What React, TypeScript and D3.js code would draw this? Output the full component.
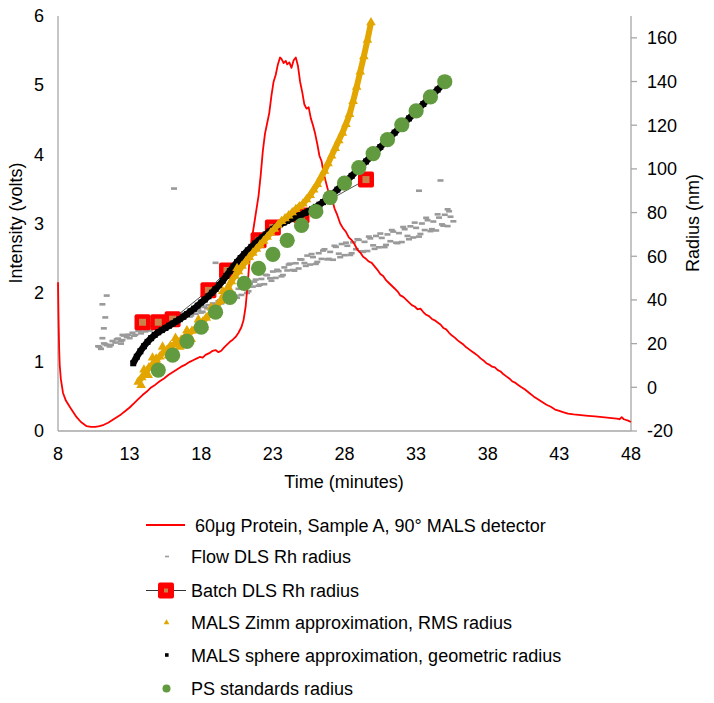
import React from 'react';
import * as d3 from 'd3';

const xTicks = [8, 13, 18, 23, 28, 33, 38, 43, 48];
const leftTicks = [0, 1, 2, 3, 4, 5, 6];
const rightTicks = [-20, 0, 20, 40, 60, 80, 100, 120, 140, 160];

// 60µg Protein, Sample A, 90° MALS detector (time min, volts)
const intensity: [number, number][] = [
  [8.0, 2.15], [8.04, 1.6], [8.08, 1.2], [8.12, 0.95], [8.2, 0.75], [8.35, 0.55], [8.55, 0.44], [8.85, 0.34],
  [9.3, 0.2], [9.6, 0.13], [10.0, 0.07], [10.3, 0.06], [10.6, 0.06], [10.9, 0.07], [11.2, 0.09], [11.5, 0.12],
  [11.8, 0.16], [12.1, 0.2], [12.4, 0.24], [12.7, 0.29], [13.0, 0.34], [13.3, 0.4], [13.6, 0.46], [13.9, 0.52],
  [14.2, 0.57], [14.5, 0.63], [14.8, 0.67], [15.1, 0.72], [15.4, 0.76], [15.7, 0.81], [16.0, 0.85], [16.3, 0.89],
  [16.6, 0.93], [16.9, 0.96], [17.2, 1.0], [17.5, 1.03], [17.7, 1.05], [17.9, 1.07], [18.1, 1.06], [18.3, 1.1],
  [18.6, 1.13], [18.8, 1.16], [19.0, 1.17], [19.2, 1.14], [19.4, 1.16], [19.6, 1.21], [19.8, 1.25], [20.0, 1.29],
  [20.2, 1.32], [20.4, 1.36], [20.6, 1.42], [20.8, 1.5], [20.95, 1.6], [21.1, 1.8], [21.25, 2.15], [21.4, 2.55],
  [21.55, 2.8], [21.7, 3.0], [21.85, 3.2], [22.0, 3.4], [22.15, 3.7], [22.3, 4.05], [22.45, 4.3], [22.6, 4.45],
  [22.75, 4.6], [22.9, 4.85], [23.05, 5.05], [23.2, 5.15], [23.35, 5.3], [23.5, 5.4], [23.6, 5.38], [23.75, 5.32],
  [23.9, 5.35], [24.0, 5.3], [24.15, 5.33], [24.3, 5.25], [24.45, 5.36], [24.6, 5.4], [24.75, 5.28], [24.9, 5.05],
  [25.05, 4.9], [25.2, 4.72], [25.35, 4.66], [25.5, 4.68], [25.65, 4.52], [25.8, 4.42], [25.95, 4.3], [26.1, 4.15],
  [26.25, 3.98], [26.4, 3.9], [26.55, 3.72], [26.7, 3.6], [26.85, 3.48], [27.0, 3.4], [27.15, 3.34], [27.3, 3.22],
  [27.5, 3.12], [27.7, 3.0], [27.9, 2.93], [28.1, 2.88], [28.3, 2.8], [28.5, 2.76], [28.7, 2.7], [28.9, 2.62],
  [29.1, 2.58], [29.3, 2.52], [29.5, 2.49], [29.7, 2.45], [29.9, 2.43], [30.1, 2.38], [30.3, 2.33], [30.5, 2.27],
  [30.7, 2.24], [30.9, 2.18], [31.1, 2.14], [31.3, 2.1], [31.5, 2.06], [31.7, 2.02], [31.9, 1.96], [32.1, 1.94],
  [32.3, 1.9], [32.5, 1.86], [32.7, 1.82], [32.9, 1.8], [33.1, 1.76], [33.3, 1.77], [33.5, 1.72], [33.7, 1.68],
  [33.9, 1.66], [34.1, 1.62], [34.3, 1.6], [34.5, 1.57], [34.7, 1.54], [34.9, 1.49], [35.1, 1.47], [35.3, 1.42],
  [35.5, 1.38], [35.7, 1.35], [35.9, 1.31], [36.1, 1.28], [36.3, 1.25], [36.5, 1.21], [36.7, 1.18], [36.9, 1.15],
  [37.1, 1.12], [37.3, 1.09], [37.5, 1.05], [37.7, 1.02], [37.9, 0.98], [38.1, 0.96], [38.3, 0.93], [38.5, 0.92],
  [38.7, 0.88], [38.9, 0.86], [39.1, 0.82], [39.3, 0.79], [39.5, 0.76], [39.7, 0.72], [39.9, 0.7], [40.1, 0.67],
  [40.3, 0.64], [40.6, 0.6], [40.9, 0.55], [41.2, 0.5], [41.5, 0.46], [41.8, 0.42], [42.1, 0.38], [42.4, 0.35],
  [42.7, 0.31], [43.0, 0.29], [43.3, 0.27], [43.6, 0.25], [44.0, 0.24], [44.5, 0.23], [45.0, 0.22], [45.5, 0.21],
  [46.0, 0.2], [46.5, 0.19], [47.0, 0.18], [47.2, 0.17], [47.35, 0.2], [47.5, 0.17], [47.8, 0.15], [48.0, 0.13],
];

// Flow DLS Rh radius (time, nm)
const flowDls: [number, number][] = [
  [10.8, 18.8], [11.0, 17.6], [11.2, 20.1], [11.4, 19.3], [11.6, 18.7], [11.8, 21.2], [12.0, 20.5], [12.2, 22.3],
  [12.4, 21.2], [12.6, 23.7], [12.8, 23.0], [13.0, 22.5], [13.2, 25.0], [13.4, 24.0], [13.6, 25.8], [13.8, 24.7],
  [14.0, 27.2], [14.2, 26.5], [14.4, 26.0], [14.6, 28.5], [14.8, 27.5], [15.0, 29.3], [15.2, 28.2], [15.4, 30.7],
  [15.6, 30.0], [15.8, 29.5], [16.0, 32.0], [16.2, 30.9], [16.4, 32.6], [16.6, 31.4], [16.8, 33.8], [17.0, 33.0],
  [17.2, 32.4], [17.4, 34.8], [17.6, 33.7], [17.8, 35.4], [18.0, 34.2], [18.2, 36.8], [18.4, 36.2], [18.6, 35.8],
  [18.8, 38.4], [19.0, 37.5], [19.2, 39.4], [19.4, 38.4], [19.6, 41.0], [19.8, 40.4], [20.0, 39.5], [20.2, 43.2],
  [20.4, 41.9], [20.6, 45.1], [20.8, 42.3], [21.0, 45.5], [21.2, 43.2], [21.4, 47.4], [21.6, 46.1], [21.8, 49.3],
  [22.0, 46.5], [22.2, 49.6], [22.4, 47.2], [22.6, 51.3], [22.8, 49.9], [23.0, 53.0], [23.2, 50.1], [23.4, 53.2],
  [23.6, 50.8], [23.8, 54.9], [24.0, 53.5], [24.2, 56.6], [24.4, 53.7], [24.6, 56.8], [24.8, 54.4], [25.0, 58.5],
  [25.2, 56.9], [25.4, 60.3], [25.6, 56.2], [25.8, 59.6], [26.0, 56.5], [26.2, 61.4], [26.4, 58.8], [26.6, 63.2],
  [26.8, 58.6], [27.0, 62.0], [27.2, 58.4], [27.4, 64.3], [27.6, 61.2], [27.8, 65.6], [28.0, 60.5], [28.2, 64.8],
  [28.4, 60.6], [28.6, 66.4], [28.8, 63.2], [29.0, 67.5], [29.2, 62.3], [29.4, 66.6], [29.6, 62.4], [29.8, 68.2],
  [30.0, 65.0], [30.2, 69.3], [30.4, 64.1], [30.6, 68.4], [30.8, 64.2], [31.0, 70.0], [31.2, 66.9], [31.4, 71.3],
  [31.6, 66.2], [31.8, 70.6], [32.0, 66.5], [32.2, 72.4], [32.4, 69.3], [32.6, 73.7], [32.8, 68.6], [33.0, 73.0],
  [33.2, 69.0], [33.4, 75.0], [33.6, 72.0], [33.8, 76.5], [34.0, 71.5], [34.2, 75.9], [34.4, 71.8], [34.6, 77.7],
  [34.8, 74.6], [35.0, 79.0], [35.2, 73.8], [35.4, 78.1], [35.6, 76.0],
  [10.9, 18.5], [11.3, 19.8], [11.7, 19.4], [12.1, 22.0], [12.5, 21.6], [12.9, 24.1], [13.3, 23.6], [13.7, 25.9],
  [14.1, 25.6], [14.5, 28.2], [14.9, 27.4], [15.3, 30.1], [15.7, 29.6], [16.1, 31.9], [16.5, 31.2], [16.9, 33.6],
  [17.3, 32.9], [17.7, 35.2], [18.1, 34.6], [18.5, 37.6], [18.9, 37.0], [19.3, 39.8], [19.7, 39.2], [20.1, 42.8],
  [20.5, 41.0], [20.9, 45.6], [21.3, 44.0], [21.7, 48.4], [22.1, 47.0], [22.5, 51.5], [22.9, 48.8], [23.3, 53.8],
  [23.7, 51.4], [24.1, 56.2], [24.5, 53.4], [24.9, 58.6], [25.3, 55.6], [25.7, 61.0], [26.1, 57.4], [26.5, 62.6],
  [26.9, 58.8], [27.3, 64.8], [27.7, 59.6], [28.1, 66.2], [28.5, 61.4], [28.9, 67.8], [29.3, 62.0], [29.7, 69.0],
  [30.1, 63.4], [30.5, 70.4], [30.9, 65.2], [31.3, 72.0], [31.7, 66.0], [32.1, 73.4], [32.5, 67.8], [32.9, 75.4],
  [33.3, 70.2], [33.7, 77.6], [34.1, 72.4], [34.5, 79.2], [34.9, 74.0], [35.3, 80.6],
  [11.1, 22.5], [11.2, 27.0], [11.3, 32.0], [11.1, 38.0], [11.4, 42.0], [12.5, 24.0], [12.4, 20.0], [16.1, 91.0],
  [19.0, 57.0], [33.2, 90.0], [34.7, 94.7], [35.2, 81.5],
];

// Batch DLS Rh radius
const batchDls: [number, number][] = [
  [13.9, 29.8], [15.0, 29.8], [16.0, 31.2], [18.5, 44.4], [19.8, 53.5], [22.0, 67.3], [23.0, 73.2], [25.0, 78.7], [29.5, 95.1],
];

// MALS Zimm approximation, RMS radius
const zimmRms: [number, number][] = [
  [13.6, 2.5], [13.85, 4.5], [14.1, 6.5], [14.35, 9], [14.6, 10.5], [14.85, 13], [15.1, 14], [15.35, 16],
  [15.6, 17], [15.85, 19], [16.1, 19.5], [16.35, 21], [16.6, 21.8], [16.85, 23], [17.1, 24], [17.35, 25.8],
  [17.6, 27], [17.85, 28.8], [18.1, 30], [18.35, 31.8], [18.6, 33.4], [18.85, 35.3], [19.1, 37.2], [19.35, 39.5],
  [19.6, 42.5], [19.85, 45.5], [20.1, 48.5], [20.35, 51], [20.6, 53], [20.85, 55.5], [21.1, 57.6], [21.35, 59.6],
  [21.6, 61.5], [21.85, 63.3], [22.1, 65.2], [22.35, 67], [22.6, 68.8], [22.85, 70.7], [23.1, 72.5], [23.35, 74.3],
  [23.6, 76], [23.85, 77.3], [24.1, 78.6], [24.35, 80], [24.6, 81.5], [24.85, 82.8], [25.1, 84], [25.35, 86],
  [25.6, 88], [25.85, 90.5], [26.1, 93], [26.35, 96], [26.6, 99], [26.85, 102.5], [27.1, 106], [27.35, 109.5],
  [27.6, 113], [27.85, 116.5], [28.1, 120.5], [28.35, 125], [28.6, 131], [28.85, 137.5], [29.1, 144.5], [29.35, 151.5],
  [29.6, 159], [29.85, 167],
];
const zimmScatter: [number, number][] = [
  [13.8, 1], [14.0, 8], [14.3, 5.5], [14.6, 13.5], [15.0, 10.5], [15.3, 18.5], [15.7, 14.5], [16.2, 22.5],
  [16.5, 18.5], [17.0, 26], [17.3, 22], [17.8, 31], [18.2, 27.5], [18.7, 36.5], [19.0, 33], [19.5, 44],
  [20.0, 44.5], [20.5, 54.5],
];

// MALS sphere approximation, geometric radius
const sphereGeo: [number, number][] = [
  [13.25, 11], [13.5, 14], [13.75, 16.5], [14.0, 18.8], [14.25, 20.8], [14.5, 22.5], [14.75, 24], [15.0, 25.2],
  [15.25, 26.2], [15.5, 27.2], [15.75, 28.2], [16.0, 29.2], [16.25, 30.2], [16.5, 31.2], [16.75, 32.3], [17.0, 33.5],
  [17.25, 34.8], [17.5, 36], [17.75, 37.4], [18.0, 38.8], [18.25, 40.2], [18.5, 41.7], [18.75, 43.3], [19.0, 45],
  [19.25, 46.8], [19.5, 48.8], [19.75, 51], [20.0, 53.2], [20.25, 55.3], [20.5, 57.3], [20.75, 59.2], [21.0, 61],
  [21.25, 62.7], [21.5, 64.3], [21.75, 65.8], [22.0, 67.2], [22.25, 68.6], [22.5, 70], [22.75, 71.3], [23.0, 72.5],
  [23.25, 73.6], [23.5, 74.6], [23.75, 75.4], [24.0, 76.2], [24.25, 77], [24.5, 77.7], [24.75, 78.4], [25.0, 79.1],
  [25.25, 79.9], [25.5, 80.7], [25.75, 81.6], [26.0, 82.6], [26.25, 83.6], [26.5, 84.8], [26.75, 86.1], [27.0, 87.5],
  [27.5, 90.5], [28.0, 93.6], [28.5, 96.8], [29.0, 100.2], [29.5, 103.4], [30.0, 106.7], [30.5, 110], [31.0, 113.3],
  [31.5, 116.6], [32.0, 119.9], [32.5, 123.1], [33.0, 126.4], [33.5, 129.7], [34.0, 133], [34.5, 136.3], [35.0, 139.5],
];

// PS standards radius
const psStandards: [number, number][] = [
  [15, 7.9], [16, 14.7], [17, 21], [18, 27.5], [19, 34.4], [20, 41.2], [21, 47.6], [22, 54.5], [23, 60.9],
  [24, 67.3], [25, 74.1], [26, 80.5], [27, 86.9], [28, 93.5], [29, 100.6], [30, 107], [31, 113.4], [32, 120.2],
  [33, 126.6], [34, 133], [35, 139.9],
];

const legendLabels = [
  '60μg Protein, Sample A, 90° MALS detector',
  'Flow DLS Rh radius',
  'Batch DLS Rh radius',
  'MALS Zimm approximation, RMS radius',
  'MALS sphere approximation, geometric radius',
  'PS standards radius',
];

const RED = '#ff0000';
const GRAY = '#9a9a9a';
const GOLD = '#e3a600';
const GREEN = '#629a3f';
const BROWN = '#c8824a';
const AXIS = '#a6a6a6';
const FONT = '"Liberation Sans", Arial, sans-serif';

export default function App() {
  const x = d3.scaleLinear().domain([8, 48]).range([58, 631]);
  const yL = d3.scaleLinear().domain([0, 6]).range([431, 16]);
  const yR = d3.scaleLinear().domain([-20, 170]).range([431, 16]);

  const redLine = d3.line<[number, number]>().x(d => x(d[0])).y(d => yL(d[1]))(intensity) || '';
  const batchLine = d3.line<[number, number]>().x(d => x(d[0])).y(d => yR(d[1]))(batchDls) || '';
  const zimmLine = d3.line<[number, number]>().curve(d3.curveMonotoneX).x(d => x(d[0])).y(d => yR(d[1]))(zimmRms) || '';
  const sphereLine = d3.line<[number, number]>().curve(d3.curveMonotoneX).x(d => x(d[0])).y(d => yR(d[1]))(sphereGeo) || '';
  const tri = d3.symbol().type(d3.symbolTriangle).size(40)() || '';
  const triSmall = d3.symbol().type(d3.symbolTriangle).size(14)() || '';

  const legendY = [525, 556.5, 590.5, 622.5, 655, 688.5];

  return (
    <svg width={714} height={703} style={{ position: 'absolute', left: 0, top: 0, background: '#fff' }} fontFamily={FONT}>
      <rect x={0} y={0} width={714} height={703} fill="#fff" />
      {/* axes */}
      <line x1={x(8)} x2={x(8)} y1={yL(6)} y2={yL(0)} stroke={AXIS} strokeWidth={1.3} />
      <line x1={x(8)} x2={x(48)} y1={yL(0)} y2={yL(0)} stroke={AXIS} strokeWidth={1.3} />
      <line x1={x(48)} x2={x(48)} y1={yR(170)} y2={yR(-20)} stroke={AXIS} strokeWidth={1.3} />
      {rightTicks.map(t => (
        <line key={'rt' + t} x1={x(48)} x2={x(48) + 6} y1={yR(t)} y2={yR(t)} stroke={AXIS} strokeWidth={1.3} />
      ))}
      {leftTicks.map(t => (
        <text key={'lt' + t} x={44} y={yL(t) + 6.3} textAnchor="end" fontSize={18} fill="#000">{t}</text>
      ))}
      {rightTicks.map(t => (
        <text key={'rl' + t} x={647} y={yR(t) + 6.3} textAnchor="start" fontSize={18} fill="#000">{t}</text>
      ))}
      {xTicks.map(t => (
        <text key={'xt' + t} x={x(t)} y={460} textAnchor="middle" fontSize={18} fill="#000">{t}</text>
      ))}
      <text x={344} y={488} textAnchor="middle" fontSize={18} fill="#000">Time (minutes)</text>
      <text transform="translate(22,223) rotate(-90)" textAnchor="middle" fontSize={18} fill="#000">Intensity (volts)</text>
      <text transform="translate(699,223) rotate(-90)" textAnchor="middle" fontSize={18} fill="#000">Radius (nm)</text>

      {/* series */}
      {flowDls.map((d, i) => (
        <rect key={'f' + i} x={x(d[0]) - 3} y={yR(d[1]) - 1.3} width={6} height={2.6} fill={GRAY} />
      ))}
      <path d={redLine} fill="none" stroke={RED} strokeWidth={1.8} strokeLinejoin="round" />
      <path d={batchLine} fill="none" stroke="#555" strokeWidth={1} />
      {batchDls.map((d, i) => (
        <g key={'b' + i} transform={`translate(${x(d[0])},${yR(d[1])})`}>
          <rect x={-8} y={-8} width={16} height={16} rx={2} fill={RED} />
          <rect x={-3.5} y={-3.5} width={7} height={7} fill={BROWN} />
        </g>
      ))}
      <path d={sphereLine} fill="none" stroke="#000" strokeWidth={6.5} strokeLinejoin="round" />
      {sphereGeo.map((d, i) => (
        <rect key={'s' + i} x={x(d[0]) - 3} y={yR(d[1]) - 3} width={6} height={6} fill="#000" />
      ))}
      <path d={zimmLine} fill="none" stroke={GOLD} strokeWidth={6} strokeLinejoin="round" />
      {zimmRms.concat(zimmScatter).map((d, i) => (
        <path key={'z' + i} d={tri} transform={`translate(${x(d[0])},${yR(d[1])})`} fill={GOLD} />
      ))}
      {psStandards.map((d, i) => (
        <circle key={'p' + i} cx={x(d[0])} cy={yR(d[1])} r={7.6} fill={GREEN} />
      ))}

      {/* legend */}
      <line x1={146} x2={185} y1={legendY[0]} y2={legendY[0]} stroke={RED} strokeWidth={2} />
      <rect x={165} y={legendY[1] - 0.8} width={4} height={1.6} fill={GRAY} />
      <line x1={146} x2={186} y1={legendY[2]} y2={legendY[2]} stroke="#333" strokeWidth={1} />
      <rect x={158} y={legendY[2] - 8} width={16} height={16} rx={2} fill={RED} />
      <rect x={164} y={legendY[2] - 2} width={4} height={4} fill={BROWN} />
      <path d={triSmall} transform={`translate(166.5,${legendY[3]})`} fill={GOLD} />
      <rect x={165} y={legendY[4] - 1.8} width={3.6} height={3.6} fill="#000" />
      <circle cx={166.5} cy={legendY[5]} r={4} fill={GREEN} />
      {legendLabels.map((l, i) => (
        <text key={'lg' + i} x={i === 0 ? 195 : 191} y={legendY[i] + 6.5} fontSize={18} fill="#000">{l}</text>
      ))}
    </svg>
  );
}
